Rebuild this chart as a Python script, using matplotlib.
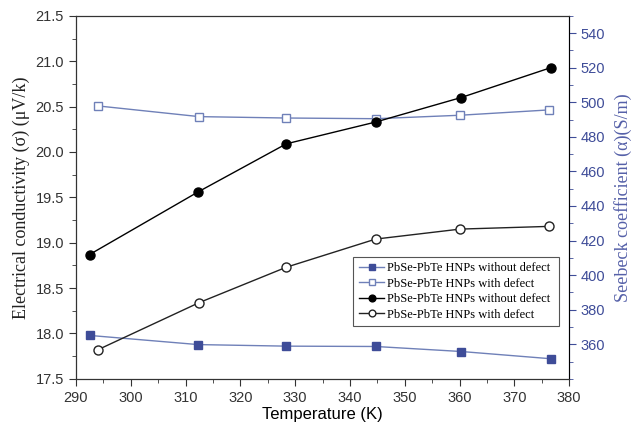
import matplotlib
matplotlib.use('Agg')
import matplotlib.pyplot as plt
from matplotlib.ticker import MultipleLocator

# temperature (K)
t_fill = [292.5, 312.3, 328.4, 344.7, 360.3, 376.7]
t_open = [294.0, 312.5, 328.4, 344.7, 360.1, 376.4]

# left axis: electrical conductivity
cond_without = [18.87, 19.56, 20.09, 20.33, 20.60, 20.93]
cond_with = [17.82, 18.34, 18.73, 19.04, 19.15, 19.18]

# right axis: seebeck coefficient
seeb_without = [365.1, 359.8, 358.9, 358.7, 355.8, 351.6]
seeb_with = [497.9, 491.7, 490.9, 490.5, 492.5, 495.6]

lbl_without = 'PbSe-PbTe HNPs without defect'
lbl_with = 'PbSe-PbTe HNPs with defect'

blue = '#3e4c98'
blue_line = '#6f80b8'
ser = ['Liberation Serif', 'DejaVu Serif']
sans = ['Liberation Sans', 'DejaVu Sans']

plt.rcParams['font.family'] = sans
plt.rcParams['font.size'] = 10.5

fig = plt.figure(figsize=(6.38, 4.29), dpi=100)
ax = fig.add_axes([0.119, 0.117, 0.773, 0.846])
ax2 = ax.twinx()

h1, = ax2.plot(t_fill, seeb_without, '-s', color=blue_line, lw=1.0, ms=6,
               mfc=blue, mec=blue, label=lbl_without)
h2, = ax2.plot(t_open, seeb_with, '-s', color=blue_line, lw=1.0, ms=6,
               mfc='white', mec=blue_line, label=lbl_with)
h3, = ax.plot(t_fill, cond_without, '-o', color='black', lw=1.0, ms=6.5,
              mfc='black', label=lbl_without)
h4, = ax.plot(t_open, cond_with, '-o', color='#222222', lw=1.0, ms=6.5,
              mfc='white', mec='#222222', label=lbl_with)

ax.set_xlim(290, 380)
ax.set_ylim(17.5, 21.5)
ax2.set_ylim(340, 550)

ax.xaxis.set_major_locator(MultipleLocator(10))
ax.xaxis.set_minor_locator(MultipleLocator(5))
ax.yaxis.set_major_locator(MultipleLocator(0.5))
ax.yaxis.set_minor_locator(MultipleLocator(0.25))
ax.yaxis.set_major_formatter(matplotlib.ticker.FormatStrFormatter('%.1f'))
ax2.yaxis.set_minor_locator(MultipleLocator(10))
ax2.set_yticks(range(360, 541, 20))

ax.tick_params(which='major', direction='out', length=5, colors='#333333')
ax.tick_params(which='minor', direction='out', length=3, colors='#333333')
ax2.tick_params(which='major', direction='out', length=5, color=blue, labelcolor=blue)
ax2.tick_params(which='minor', direction='out', length=3, color=blue)
ax2.spines['right'].set_color(blue)
for sp in ['left', 'bottom', 'top']:
    ax.spines[sp].set_color('#333333')

ax.set_xlabel('Temperature (K)', fontsize=12, labelpad=2)
ax.set_ylabel('Electrical conductivity (σ) (μV/k)', family=ser, fontsize=13,
              color='#222222', labelpad=4)
ax2.set_ylabel('Seebeck coefficient (α)(S/m)', family=ser, fontsize=13,
               color='#5560a8', labelpad=6)

leg = ax.legend([h1, h2, h3, h4], [lbl_without, lbl_with, lbl_without, lbl_with],
                loc='lower left', bbox_to_anchor=(0.55, 0.127, 0.442, 0.203),
                mode='expand', prop={'family': ser, 'size': 9},
                fancybox=False, edgecolor='#555555', framealpha=1,
                handlelength=2.0, borderpad=0.45, labelspacing=0.28,
                handletextpad=0.2, markerscale=0.75)
leg.get_frame().set_linewidth(0.8)
ax2.set_zorder(1)
ax.set_zorder(2)
ax.patch.set_visible(False)

fig.savefig('out.png', dpi=100)
